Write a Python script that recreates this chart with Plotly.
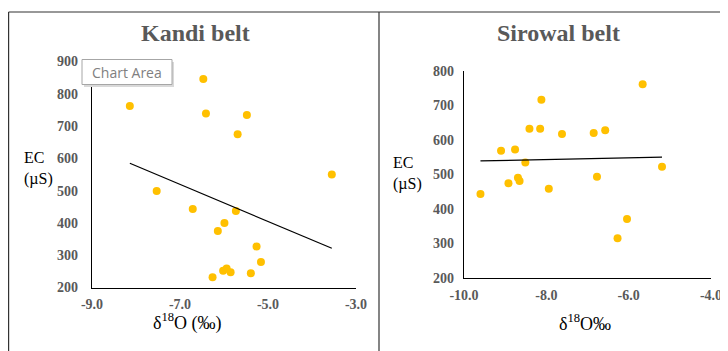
import numpy as np
import plotly.graph_objects as go

# ---- Data ----
kandi_d18O = [-8.14, -6.47, -6.41, -5.48, -5.69, -3.55, -7.53, -6.71, -5.73,
              -5.99, -6.14, -5.26, -5.16, -6.02, -5.94, -5.85, -6.26, -5.39]
kandi_ec = [762, 846, 739, 734, 675, 550, 499, 443, 437,
            400, 375, 327, 279, 252, 259, 247, 232, 244]

sirowal_d18O = [-5.66, -8.12, -8.41, -8.15, -7.62, -6.85, -6.57, -9.10, -8.76,
                -8.51, -5.19, -8.69, -8.65, -8.92, -6.77, -7.94, -9.60, -6.04, -6.27]
sirowal_ec = [761, 716, 632, 632, 617, 620, 628, 568, 572,
              534, 522, 490, 481, 474, 493, 458, 443, 371, 315]

kandi_xticks = [-9.0, -7.0, -5.0, -3.0]
kandi_xlabels = ["-9.0", "-7.0", "-5.0", "-3.0"]
kandi_yticks = [200, 300, 400, 500, 600, 700, 800, 900]
sirowal_xticks = [-10.0, -8.0, -6.0, -4.0]
sirowal_xlabels = ["-10.0", "-8.0", "-6.0", "-4.0"]
sirowal_yticks = [200, 300, 400, 500, 600, 700, 800]

# page body has an 8px default margin, so the figure is offset by 8px
OFF = 8
W, H = 728 - OFF, 351 - OFF
def px(x): return (x - OFF) / W
def py(y): return 1 - (y - OFF) / H

MARK = "#FFC000"
TICKC = "#595959"
SERIF = "Liberation Serif, Times New Roman, serif"

fig = go.Figure()

def add_panel(xs, ys, xa, ya):
    fig.add_trace(go.Scatter(x=xs, y=ys, mode="markers", xaxis=xa, yaxis=ya,
                             marker=dict(color=MARK, size=8), showlegend=False,
                             hoverinfo="skip"))
    m, b = np.polyfit(xs, ys, 1)
    tx = [min(xs), max(xs)]
    fig.add_trace(go.Scatter(x=tx, y=[m * t + b for t in tx], mode="lines",
                             xaxis=xa, yaxis=ya, line=dict(color="black", width=1.2),
                             showlegend=False, hoverinfo="skip"))

add_panel(kandi_d18O, kandi_ec, "x", "y")
add_panel(sirowal_d18O, sirowal_ec, "x2", "y2")

tickfont = dict(family=SERIF, size=14, color=TICKC, weight="bold")
axcommon = dict(showline=True, linecolor="black", linewidth=1.3, showgrid=False,
                zeroline=False, ticks="", tickfont=tickfont, fixedrange=True,
                automargin=False)

fig.update_layout(
    width=W, height=H, margin=dict(l=0, r=0, t=0, b=0, autoexpand=False),
    paper_bgcolor="white", plot_bgcolor="white",
    xaxis=dict(domain=[px(92), px(356)], range=[-9, -3], tickvals=kandi_xticks,
               ticktext=kandi_xlabels, anchor="y", ticklabelstandoff=4, **axcommon),
    yaxis=dict(domain=[py(287.5), py(61.5)], range=[200, 900], tickvals=kandi_yticks,
               anchor="x", ticklabelstandoff=10, **axcommon),
    xaxis2=dict(domain=[px(464), px(711)], range=[-10, -4], tickvals=sirowal_xticks,
                ticktext=sirowal_xlabels, anchor="y2", ticklabelstandoff=4, **axcommon),
    yaxis2=dict(domain=[py(278), py(70.7)], range=[200, 800], tickvals=sirowal_yticks,
                anchor="x2", ticklabelstandoff=6, **axcommon),
)

# panel borders
bc = "#333333"
for (x0, y0, x1, y1) in [(8.6, 12, 727, 12), (8.6, 12, 8.6, 360), (379, 12, 379, 360),
                         (727, 12, 727, 360)]:
    fig.add_shape(type="line", xref="paper", yref="paper", x0=px(x0), y0=py(y0),
                  x1=px(x1), y1=py(y1), line=dict(color=bc, width=1.2))

def note(text, x, y, size, color="black", xanchor="center", family=SERIF, align="center"):
    fig.add_annotation(text=text, x=px(x), y=py(y), xref="paper", yref="paper",
                       xanchor=xanchor, yanchor="middle", align=align, showarrow=False,
                       font=dict(family=family, size=size, color=color))

# titles
note("<b>Kandi belt</b>", 195, 33, 24, TICKC)
note("<b>Sirowal belt</b>", 558, 33, 24, TICKC)

# axis titles
note("δ<sup>18</sup>O (‰)", 187, 322, 18)
note("δ<sup>18</sup>O‰", 585, 322, 18)
note("EC<br>(µS)", 22, 168, 16, xanchor="left", align="left")
note("EC<br>(µS)", 391, 173, 16, xanchor="left", align="left")

# "Chart Area" tooltip
fig.add_shape(type="rect", xref="paper", yref="paper", x0=px(84), y0=py(62), x1=px(174), y1=py(87),
              line=dict(width=0), fillcolor="#d9d9d9", layer="above")
fig.add_shape(type="rect", xref="paper", yref="paper", x0=px(82), y0=py(59.5), x1=px(172), y1=py(84.5),
              line=dict(color="#a6a6a6", width=1), fillcolor="white", layer="above")
note("Chart Area", 90, 72.5, 14, "#808080", xanchor="left", family="Open Sans, sans-serif")

fig.write_html("out.html")
